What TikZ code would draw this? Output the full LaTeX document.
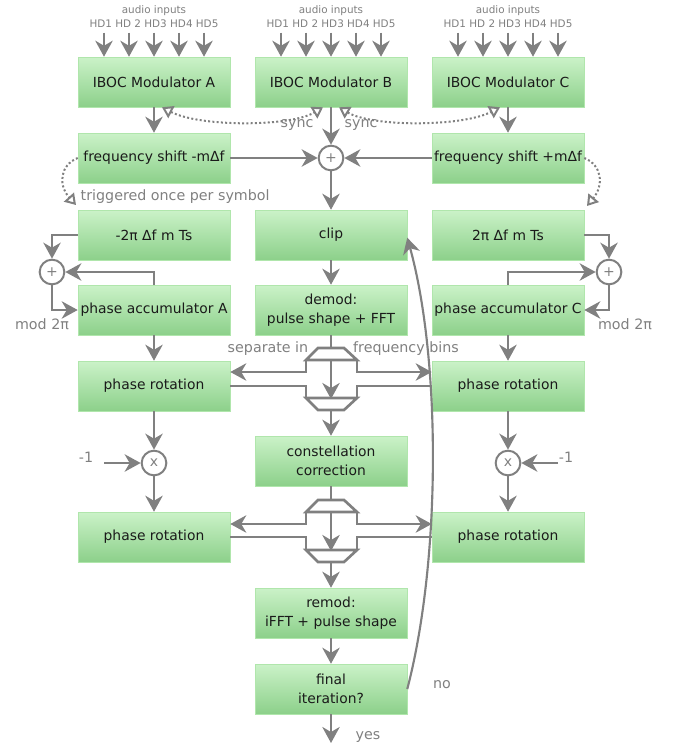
\documentclass[tikz,border=0pt]{standalone}
\usepackage{fontspec}
\setmainfont{DejaVu Sans}
\usetikzlibrary{arrows.meta,positioning,calc}
\definecolor{wire}{HTML}{808080}
\definecolor{ink}{HTML}{1A1A1A}
\definecolor{boxtop}{HTML}{CBF2C8}
\definecolor{boxbot}{HTML}{8CD08A}
\definecolor{boxline}{HTML}{B0E6AC}
\tikzset{
  blk/.style={rectangle, draw=boxline, top color=boxtop, bottom color=boxbot,
              minimum width=114pt, minimum height=37.5pt, inner xsep=0.5pt, inner ysep=2pt,
              align=center, text=ink, font=\fontsize{10.4}{14}\selectfont},
  sumnode/.style={circle, draw=wire, fill=white, line width=1.5pt, minimum size=18.5pt,
              inner sep=0pt, text=wire, font=\fontsize{10.5}{10.5}\selectfont},
  ar/.style={-{Stealth[length=12pt,width=13pt,inset=3.8pt]}, line width=2.2pt, draw=wire},
  wr/.style={line width=2pt, draw=wire, line join=miter},
  fb/.style={-{Stealth[length=12pt,width=13pt,inset=3.8pt]}, line width=1.6pt, draw=wire},
  syncar/.style={{Triangle[open,length=8pt,width=10pt]}-{Triangle[open,length=8pt,width=10pt]},
              line width=1.5pt, draw=wire, dash pattern=on 1.5pt off 1.7pt},
  trig/.style={-{Triangle[open,length=8pt,width=10pt]}, line width=1.5pt, draw=wire,
              dash pattern=on 1.5pt off 1.7pt},
  lbl/.style={font=\fontsize{10.7}{12}\selectfont, text=wire},
  inlbl/.style={font=\fontsize{7.8}{10.5}\selectfont, text=wire, align=center}
}
\begin{document}
\begin{tikzpicture}[x=0.75pt,y=-0.75pt]
  \useasboundingbox (0,0) rectangle (672,746);

  % modulators
  \node[blk] (iboca) at (154,82) {IBOC Modulator A};
  \node[blk] (ibocb) at (331,82) {IBOC Modulator B};
  \node[blk] (ibocc) at (508,82) {IBOC Modulator C};
  \foreach \m/\cx in {iboca/154,ibocb/331,ibocc/508} {
    \node[inlbl] at (\cx,17) {audio inputs\\HD1 HD 2 HD3 HD4 HD5};
    \foreach \dx in {-50,-25,0,25,50}
      \draw[ar] ($(\m.north)+(\dx,-24)$) -- ($(\m.north)+(\dx,0)$);
  }

  % sync between modulators
  \draw[syncar] ([xshift=6pt]iboca.south) .. controls (200,127) and (290,127) .. ([xshift=-6pt]ibocb.south);
  \draw[syncar] ([xshift=6pt]ibocb.south) .. controls (372,127) and (462,127) .. ([xshift=-6pt]ibocc.south);
  \node[lbl] at (297,125) {sync};
  \node[lbl] at (361,125) {sync};

  % frequency shifts and sum
  \node[blk] (freqa) at (154,158) {frequency shift -mΔf};
  \node[sumnode] (sumb) at (331,158) {+};
  \node[blk] (freqc) at (508,158) {frequency shift +mΔf};
  \draw[ar] (iboca) -- (freqa);
  \draw[ar] (ibocb) -- (sumb);
  \draw[ar] (ibocc) -- (freqc);
  \draw[ar] (freqa) -- (sumb);
  \draw[ar] (freqc) -- (sumb);

  % symbol trigger
  \draw[trig] (freqa.west) .. controls (60,165) and (58,185) .. (76,205);
  \draw[trig] (freqc.east) .. controls (602,165) and (604,185) .. (587,206);
  \node[lbl, anchor=west] at (76,197) {triggered once per symbol};

  % phase steps
  \node[blk] (rota) at (154,235) {-2π Δf m Ts};
  \node[blk] (clip) at (331,235) {clip};
  \node[blk] (rotc) at (508,235) {2π Δf m Ts};
  \draw[ar] (sumb) -- (clip);

  \node[blk] (acca) at (154,310) {phase accumulator A};
  \node[blk] (demod) at (331,310) {demod:\\pulse shape + FFT};
  \node[blk] (accc) at (508,310) {phase accumulator C};
  \draw[ar] (clip) -- (demod);

  % accumulator loops
  \node[sumnode] (suma) at (52,272) {+};
  \node[sumnode] (sumc) at (609,272) {+};
  \draw[ar] (rota.west) -| (suma.north);
  \draw[ar] (acca.north) |- (suma.east);
  \draw[ar] (suma.south) |- (acca.west);
  \draw[ar] (rotc.east) -| (sumc.north);
  \draw[ar] (accc.north) |- (sumc.west);
  \draw[ar] (sumc.south) |- (accc.east);
  \node[lbl] at (42,324) {mod 2π};
  \node[lbl] at (625,324) {mod 2π};

  % first rotation
  \node[blk] (phra1) at (154,386) {phase rotation};
  \node[blk] (phrc1) at (508,386) {phase rotation};
  \draw[ar] (acca) -- (phra1);
  \draw[ar] (accc) -- (phrc1);

  \node[blk] (cc) at (331,461) {constellation\\correction};

  % bus after demod
  \coordinate (b1l) at (306,372);
  \coordinate (b1r) at (357,372);
  \draw[wr] (demod.south) -- (331,348);
  \draw[wr] (306,360) -- (318,348) -- (344,348) -- (357,360) -- cycle;
  \draw[ar] (306,360) -- (b1l) -- (b1l -| phra1.east);
  \draw[ar] (357,360) -- (b1r) -- (b1r -| phrc1.west);
  \draw[ar] (331,360) -- (331,399);
  \draw[wr] (phra1.east) -- (306,386) -- (306,398);
  \draw[wr] (phrc1.west) -- (357,386) -- (357,398);
  \draw[wr] (306,398) -- (357,398) -- (344,410) -- (318,410) -- cycle;
  \draw[ar] (331,410) -- (cc.north);
  \node[lbl] at (268,349) {separate in};
  \node[lbl] at (406,349) {frequency bins};

  % sign flip
  \node[sumnode] (mula) at (154,463) {x};
  \node[sumnode] (mulc) at (508,463) {x};
  \node[lbl] (nega) at (86,457) {-1};
  \node[lbl] (negc) at (566,457) {-1};
  \coordinate (ina) at (104,463);
  \coordinate (inc) at (558,463);
  \draw[ar] (ina) -- (mula);
  \draw[ar] (inc) -- (mulc);
  \draw[ar] (phra1) -- (mula);
  \draw[ar] (phrc1) -- (mulc);

  % second rotation
  \node[blk] (phra2) at (154,537) {phase rotation};
  \node[blk] (phrc2) at (508,537) {phase rotation};
  \draw[ar] (mula) -- (phra2);
  \draw[ar] (mulc) -- (phrc2);

  \node[blk] (remod) at (331,613) {remod:\\iFFT + pulse shape};
  \node[blk] (final) at (331,689) {final\\iteration?};

  % bus after correction
  \coordinate (b2l) at (306,524);
  \coordinate (b2r) at (357,524);
  \draw[wr] (cc.south) -- (331,500);
  \draw[wr] (306,512) -- (318,500) -- (344,500) -- (357,512) -- cycle;
  \draw[ar] (306,512) -- (b2l) -- (b2l -| phra2.east);
  \draw[ar] (357,512) -- (b2r) -- (b2r -| phrc2.west);
  \draw[ar] (331,512) -- (331,551);
  \draw[wr] (phra2.east) -- (306,537) -- (306,550);
  \draw[wr] (phrc2.west) -- (357,537) -- (357,550);
  \draw[wr] (306,550) -- (357,550) -- (344,562) -- (318,562) -- cycle;
  \draw[ar] (331,562) -- (remod.north);

  \draw[ar] (remod) -- (final);

  % loop back
  \draw[fb] (final.east) .. controls (441,560) and (441,360) .. ([yshift=-2pt]clip.east);
  \node[lbl] at (442,685) {no};
  \coordinate (done) at (331,743);
  \draw[ar] (final) -- (done);
  \node[lbl] at (368,737) {yes};
\end{tikzpicture}
\end{document}
